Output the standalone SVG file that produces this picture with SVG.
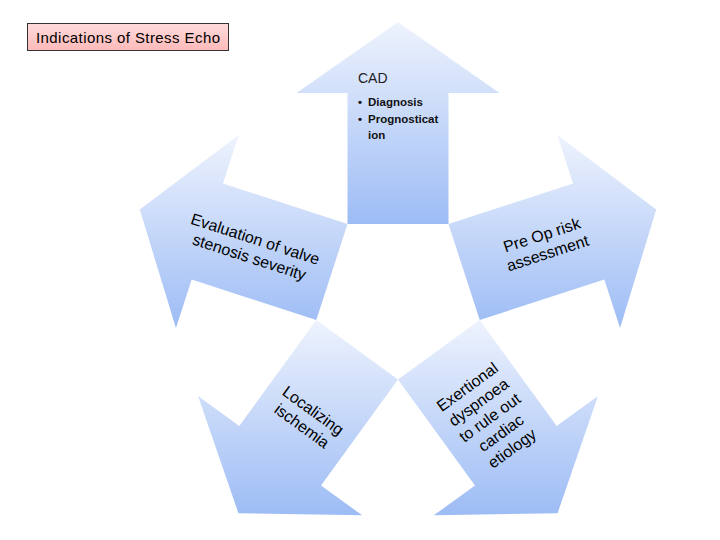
<svg xmlns="http://www.w3.org/2000/svg" width="720" height="540" viewBox="0 0 720 540">
  <defs>
    <linearGradient id="blueGrad" x1="0" y1="0" x2="0" y2="1">
      <stop offset="0" stop-color="#eef3fd"/>
      <stop offset="1" stop-color="#9dbcf5"/>
    </linearGradient>
    <linearGradient id="pinkGrad" x1="0" y1="0" x2="0" y2="1">
      <stop offset="0" stop-color="#ffdcdc"/>
      <stop offset="1" stop-color="#ffb9b9"/>
    </linearGradient>
  </defs>
  <style>
    .arrow { fill: url(#blueGrad); stroke: none; }
    .lbl { font-family: "Liberation Sans", Arial, sans-serif; font-size: 16px; fill: #000; }
    .small { font-family: "Liberation Sans", Arial, sans-serif; font-size: 11.5px; font-weight: bold; fill: #111; }
    .cad { font-family: "Liberation Sans", Arial, sans-serif; font-size: 14px; fill: #222; }
    .title { font-family: "Liberation Sans", Arial, sans-serif; font-size: 15px; fill: #000; }
  </style>
  <rect width="720" height="540" fill="#ffffff"/>

  <g id="title">
    <rect x="27.5" y="23.5" width="201" height="27" fill="url(#pinkGrad)" stroke="#333333" stroke-width="1"/>
    <text class="title" x="36" y="43" textLength="184" lengthAdjust="spacing">Indications of Stress Echo</text>
  </g>

  <g id="arrow-cad">
    <polygon class="arrow" points="398,22 499.5,93 448.5,93 448.5,224 347.5,224 347.5,93 296.5,93"/>
    <text class="cad" x="358" y="83">CAD</text>
    <text class="small" x="358" y="106">•</text>
    <text class="small" x="368" y="106">Diagnosis</text>
    <text class="small" x="358" y="122.5">•</text>
    <text class="small" x="368" y="122.5">Prognosticat</text>
    <text class="small" x="368" y="138.5">ion</text>
  </g>

  <g id="arrow-valve">
    <polygon class="arrow" points="139.79,209.6 238.68,135.01 222.92,183.51 347.51,223.99 316.29,320.05 191.7,279.57 175.94,328.07"/>
    <g transform="translate(252,249) rotate(18)">
      <text class="lbl" x="0" y="-5" text-anchor="middle">Evaluation of valve</text>
      <text class="lbl" x="0" y="14" text-anchor="middle">stenosis severity</text>
    </g>
  </g>

  <g id="arrow-preop">
    <polygon class="arrow" points="656.21,209.6 620.06,328.07 604.3,279.57 479.71,320.05 448.49,223.99 573.08,183.51 557.32,135.01"/>
    <g transform="translate(545,245) rotate(-18)">
      <text class="lbl" x="0" y="-5" text-anchor="middle">Pre Op risk</text>
      <text class="lbl" x="0" y="14" text-anchor="middle">assessment</text>
    </g>
  </g>

  <g id="arrow-ischemia">
    <polygon class="arrow" points="238.41,513.15 198.03,396.05 239.29,426.03 316.29,320.05 398.01,379.41 321.01,485.39 362.27,515.37"/>
    <g transform="translate(307,419) rotate(36)">
      <text class="lbl" x="0" y="-5" text-anchor="middle">Localizing</text>
      <text class="lbl" x="0" y="14" text-anchor="middle">ischemia</text>
    </g>
  </g>

  <g id="arrow-dyspnoea">
    <polygon class="arrow" points="557.59,513.15 433.73,515.37 474.99,485.39 397.99,379.41 479.71,320.05 556.71,426.03 597.97,396.05"/>
    <g transform="translate(490,418) rotate(-36)">
      <text class="lbl" x="0" y="-33" text-anchor="middle">Exertional</text>
      <text class="lbl" x="0" y="-14" text-anchor="middle">dyspnoea</text>
      <text class="lbl" x="0" y="5" text-anchor="middle">to rule out</text>
      <text class="lbl" x="0" y="24" text-anchor="middle">cardiac</text>
      <text class="lbl" x="0" y="43" text-anchor="middle">etiology</text>
    </g>
  </g>
</svg>
